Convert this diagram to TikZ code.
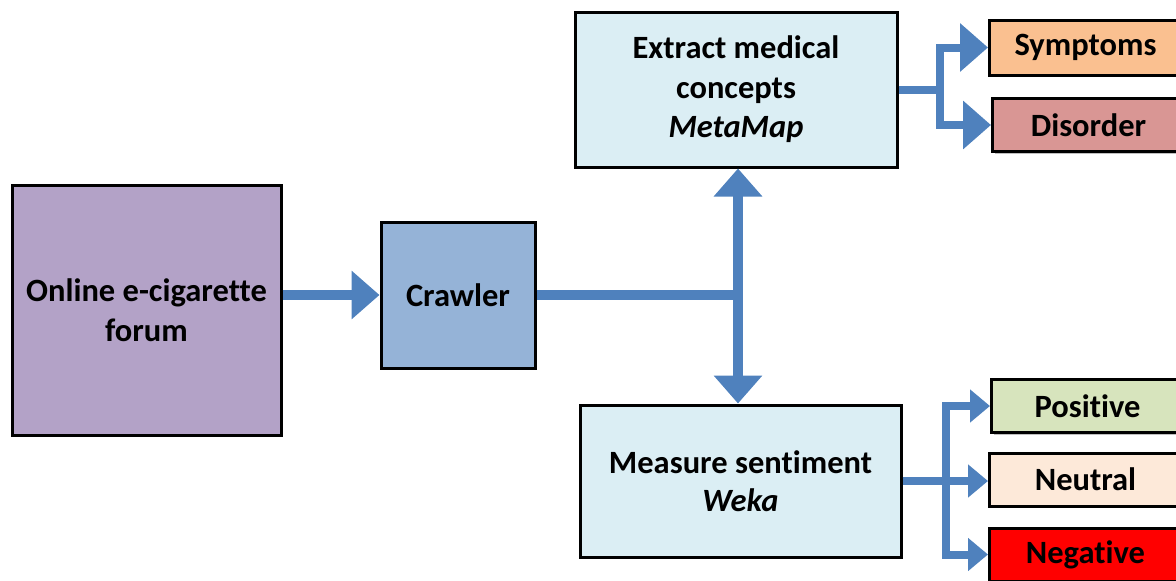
\documentclass[tikz,border=0pt]{standalone}
\usepackage{fontspec}
\setmainfont{Carlito}[Ligatures=NoCommon]
\usetikzlibrary{positioning, arrows.meta, calc, shadows}

\definecolor{forumfill}{HTML}{B3A2C7}
\definecolor{crawlfill}{HTML}{95B3D7}
\definecolor{procfill}{HTML}{DBEEF4}
\definecolor{sympfill}{HTML}{FAC090}
\definecolor{disfill}{HTML}{D99694}
\definecolor{posfill}{HTML}{D7E4BD}
\definecolor{neufill}{HTML}{FDE9D9}
\definecolor{negfill}{HTML}{FF0000}
\definecolor{flowblue}{HTML}{4F81BD}

\begin{document}
\begin{tikzpicture}[
    x=1pt, y=-1pt,
    box/.style={draw=black, line width=3pt, inner sep=0pt, align=center,
                font=\fontsize{32.5}{39.5}\selectfont\bfseries,
                drop shadow={shadow xshift=2pt, shadow yshift=-2pt,
                             opacity=0.25, fill=black}},
    outbox/.style={box, anchor=west, minimum width=192pt, minimum height=53pt},
    flow/.style={-{Triangle[length=28pt, width=47pt]}, line width=10pt,
                 color=flowblue},
    flowmid/.style={-{Triangle[length=28pt, width=47pt]}, line width=8pt,
                    color=flowblue},
    flowsm/.style={-{Triangle[length=20pt, width=32pt]}, line width=8pt,
                   color=flowblue},
]

% Frame
\useasboundingbox (0,0) rectangle (1176,581);
\clip (0,0) rectangle (1176,581);

% ===== MAIN BOXES =====
\node[box, fill=forumfill, minimum width=269pt, minimum height=250pt]
    (forum) at (146.5, 310) {Online e-cigarette\\forum};
\node[box, fill=crawlfill, minimum width=154pt, minimum height=146pt]
    (crawler) at (458, 295) {Crawler};
\node[box, fill=procfill, minimum width=322pt, minimum height=155pt]
    (extract) at (736, 89.5) {Extract medical\\concepts\\\textit{MetaMap}};
\node[box, fill=procfill, minimum width=321pt, minimum height=152pt]
    (measure) at (740.5, 481) {Measure sentiment\\[-1.5pt]\textit{Weka}};

% ===== OUTPUT BOXES =====
\node[outbox, fill=sympfill, minimum height=55pt] (symptoms) at (988, 47.5) {Symptoms};
\node[outbox, fill=disfill] (disorder) at (991, 125) {Disorder};
\node[outbox, fill=posfill] (positive) at (990, 406) {Positive};
\node[outbox, fill=neufill] (neutral) at (988, 479.5) {Neutral};
\node[outbox, fill=negfill] (negative) at (988, 554.5) {Negative};

% ===== FLOW =====
\coordinate (hub) at (738, 295);
\coordinate (splitmed) at (940, 89.5);
\coordinate (splitsent) at (946, 481);

\draw[flow] (forum.east |- crawler) -- (crawler.west);
\draw[flow, -] (crawler.east) -- (hub);
\draw[flow] ($(hub)+(0,5)$) -- (hub |- extract.south);
\draw[flow] ($(hub)-(0,5)$) -- (hub |- measure.north);

% medical concepts
\draw[flowmid, -] (extract.east) -- (splitmed);
\draw[flowmid] ($(splitmed)+(0,4)$) |- (symptoms.west);
\draw[flowmid] ($(splitmed)-(0,4)$) |- (disorder.west);

% sentiment
\draw[flowsm, -] (measure.east) -- (splitsent);
\draw[flowsm] ($(splitsent)+(0,4)$) |- (positive.west);
\draw[flowsm] (splitsent) -- (neutral.west |- splitsent);
\draw[flowsm] ($(splitsent)-(0,4)$) |- (negative.west);

\end{tikzpicture}
\end{document}
